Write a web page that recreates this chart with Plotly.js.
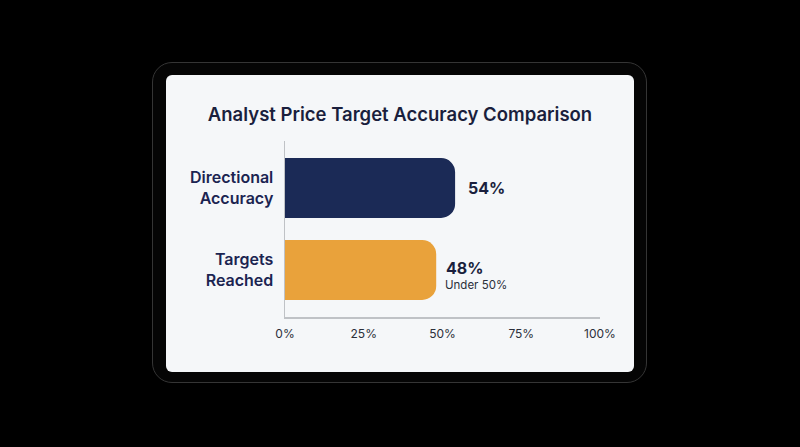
<!DOCTYPE html>
<html>
<head>
<meta charset="utf-8">
<script src="https://cdn.plot.ly/plotly-3.0.1.min.js"></script>
<style>
  html, body { margin: 0; padding: 0; background: #000; width: 800px; height: 447px; overflow: hidden; }
  .frame {
    position: absolute; left: 152px; top: 62px; width: 493px; height: 319px;
    border: 1.5px solid #353535; border-radius: 20px; background: #050505;
  }
  .screen {
    position: absolute; left: 166px; top: 75px; width: 468px; height: 297px;
    border-radius: 6px; background: #f5f7f9;
  }
  #chart { position: absolute; left: 0; top: 0; width: 800px; height: 447px; }
</style>
</head>
<body>
<div class="frame"></div>
<div class="screen"></div>
<div id="chart"></div>
<script>
const categories = ["Directional<br>Accuracy", "Targets<br>Reached"];
const values = [54, 48];
const barColors = ["#1b2a56", "#e9a23b"];
const valueLabels = ["54%", "48%"];
const subLabels = ["", "Under 50%"];
const tickVals = [0, 25, 50, 75, 100];
const tickText = ["0%", "25%", "50%", "75%", "100%"];

const trace = {
  type: "bar",
  orientation: "h",
  x: values,
  y: categories,
  marker: { color: barColors, cornerradius: 14 },
  hoverinfo: "none",
};

const annotations = [];
values.forEach((v, i) => {
  const sub = subLabels[i];
  annotations.push({
    x: v,
    y: categories[i],
    xref: "x",
    yref: "y",
    xanchor: "left",
    yanchor: "middle",
    xshift: sub ? 8 : 11,
    yshift: sub ? 2 : 0,
    showarrow: false,
    align: "left",
    text: "<b>" + valueLabels[i] + "</b>",
    font: { family: "Inter", size: 16, color: "#1a1f3d" },
  });
  if (sub) {
    annotations.push({
      x: v,
      y: categories[i],
      xref: "x",
      yref: "y",
      xanchor: "left",
      yanchor: "middle",
      xshift: 7,
      yshift: -15,
      showarrow: false,
      align: "left",
      text: sub,
      font: { family: "Inter", size: 11.5, color: "#2b2f3a" },
    });
  }
});

const layout = {
  width: 800,
  height: 447,
  margin: { l: 285, r: 200, t: 141, b: 130 },
  paper_bgcolor: "rgba(0,0,0,0)",
  plot_bgcolor: "rgba(0,0,0,0)",
  showlegend: false,
  bargap: 0.27,
  title: {
    text: "Analyst Price Target Accuracy Comparison",
    x: 0.5,
    xanchor: "center",
    y: 1 - 115 / 447,
    yanchor: "middle",
    font: { family: "Inter", size: 18.5, color: "#1a1f3d", weight: 600 },
  },
  xaxis: {
    range: [0, 100],
    tickvals: tickVals,
    ticktext: tickText,
    showgrid: false,
    zeroline: false,
    showline: true,
    linecolor: "#bfc2c6",
    linewidth: 1.5,
    ticks: "outside",
    ticklen: 5,
    tickcolor: "rgba(0,0,0,0)",
    tickfont: { family: "Inter", size: 12, color: "#2b2f3a" },
    fixedrange: true,
  },
  yaxis: {
    autorange: false,
    range: [1.573, -0.573],
    showgrid: false,
    zeroline: false,
    showline: true,
    linecolor: "#bfc2c6",
    linewidth: 1.5,
    ticks: "outside",
    ticklen: 7,
    tickcolor: "rgba(0,0,0,0)",
    tickfont: { family: "Inter", size: 16, color: "#1b2451", weight: 600 },
    fixedrange: true,
  },
  annotations: annotations,
};

Plotly.newPlot("chart", [trace], layout, { staticPlot: true, displayModeBar: false });
</script>
</body>
</html>
